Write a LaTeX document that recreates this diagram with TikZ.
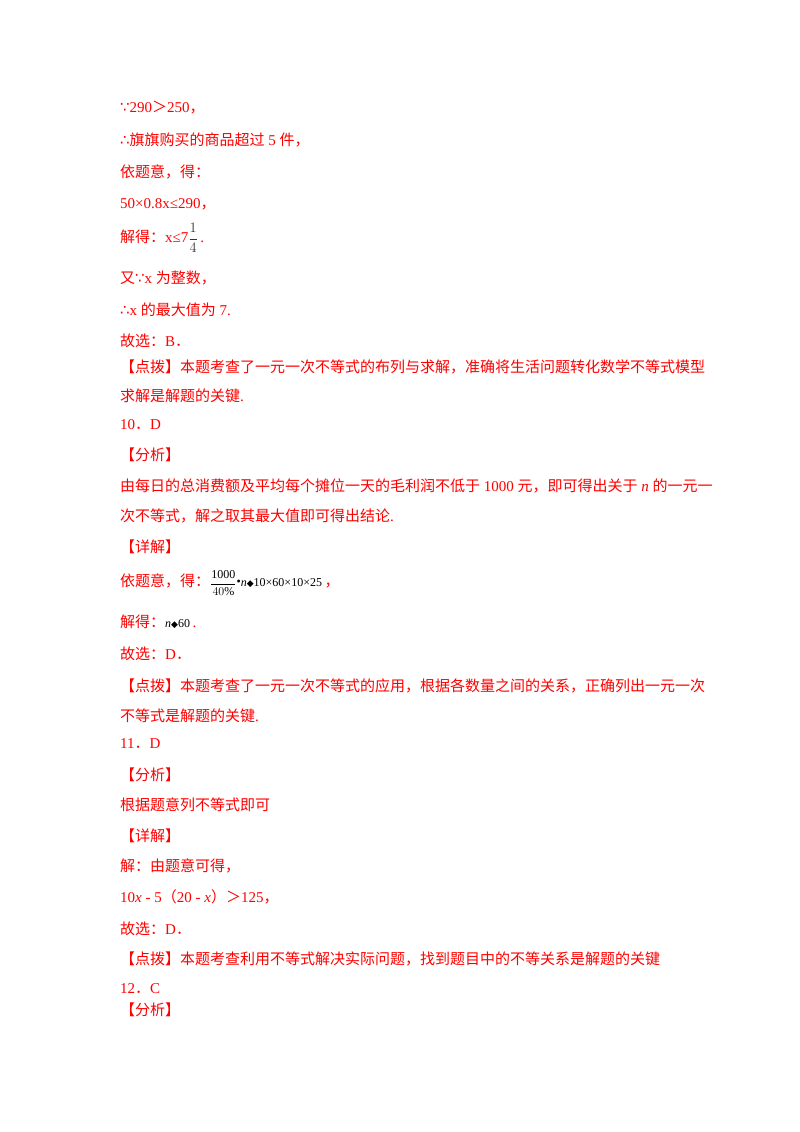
\documentclass[tikz,border=0pt]{standalone}
\usepackage{fontspec}
\setmainfont{Liberation Serif}
\newfontfamily\cjk{Noto Sans CJK SC}
\newfontfamily\djvfont{DejaVu Sans}
\definecolor{rd}{RGB}{255,0,0}
\tikzset{ln/.style={anchor=west,inner sep=0pt,text=rd,font=\fontsize{15}{16}\selectfont}}
\newcommand{\C}[1]{{\cjk #1}}
\newcommand{\D}[1]{{\djvfont #1}}
\begin{document}
\begin{tikzpicture}[x=1pt,y=-1pt]
\useasboundingbox[fill=white] (0,0) rectangle (800,1132);
\node[ln] (l1) at (120,108) {\D{∵}290\C{＞}250\C{，}};
\node[ln] (l2) at (120,140) {\D{∴}\C{旗旗购买的商品超过} 5 \C{件，}};
\node[ln] (l3) at (120,172) {\C{依题意，得：}};
\node[ln] (l4) at (120,204) {50×0.8x≤290\C{，}};
\node[ln] (l5) at (120,238) {\C{解得：}x≤7\textcolor{black!80}{$\displaystyle\frac{1}{4}$}\,.};
\node[ln] (l6) at (120,278) {\C{又}\D{∵}x \C{为整数，}};
\node[ln] (l7) at (120,310) {\D{∴}x \C{的最大值为} 7.};
\node[ln] (l8) at (120,341) {\C{故选：}B\C{．}};
\node[ln] (l9) at (120,367) {\C{【点拨】本题考查了一元一次不等式的布列与求解，准确将生活问题转化数学不等式模型}};
\node[ln] (l10) at (120,396) {\C{求解是解题的关键}.};
\node[ln] (l11) at (120,425) {10\C{．}D};
\node[ln] (l12) at (120,455) {\C{【分析】}};
\node[ln] (l13) at (120,486) {\C{由每日的总消费额及平均每个摊位一天的毛利润不低于} 1000 \C{元，即可得出关于} \textit{n} \C{的一元一}};
\node[ln] (l14) at (120,516) {\C{次不等式，解之取其最大值即可得出结论}.};
\node[ln] (l15) at (120,547) {\C{【详解】}};
\node[ln] (l16) at (120,583) {\C{依题意，得：}\textcolor{black}{\fontsize{12}{13}\selectfont$\displaystyle\frac{\mathrm{1000}}{40\%}$\raisebox{1pt}{•}\textit{n}\D{\fontsize{9}{9}\selectfont◆}10×60×10×25}\,\C{，}};
\node[ln] (l17) at (120,622) {\C{解得：}\textcolor{black}{\fontsize{12}{13}\selectfont\textit{n}\D{\fontsize{9}{9}\selectfont◆}60}\,.};
\node[ln] (l18) at (120,654) {\C{故选：}D\C{．}};
\node[ln] (l19) at (120,686) {\C{【点拨】本题考查了一元一次不等式的应用，根据各数量之间的关系，正确列出一元一次}};
\node[ln] (l20) at (120,716) {\C{不等式是解题的关键}.};
\node[ln] (l21) at (120,744) {11\C{．}D};
\node[ln] (l22) at (120,775) {\C{【分析】}};
\node[ln] (l23) at (120,805) {\C{根据题意列不等式即可}};
\node[ln] (l24) at (120,836) {\C{【详解】}};
\node[ln] (l25) at (120,866) {\C{解：由题意可得，}};
\node[ln] (l26) at (120,897) {10\textit{x} - 5\C{（}20 - \textit{x}\C{）＞}125\C{，}};
\node[ln] (l27) at (120,929) {\C{故选：}D\C{．}};
\node[ln] (l28) at (120,959) {\C{【点拨】本题考查利用不等式解决实际问题，找到题目中的不等关系是解题的关键}};
\node[ln] (l29) at (120,989) {12\C{．}C};
\node[ln] (l30) at (120,1010) {\C{【分析】}};
\end{tikzpicture}
\end{document}
